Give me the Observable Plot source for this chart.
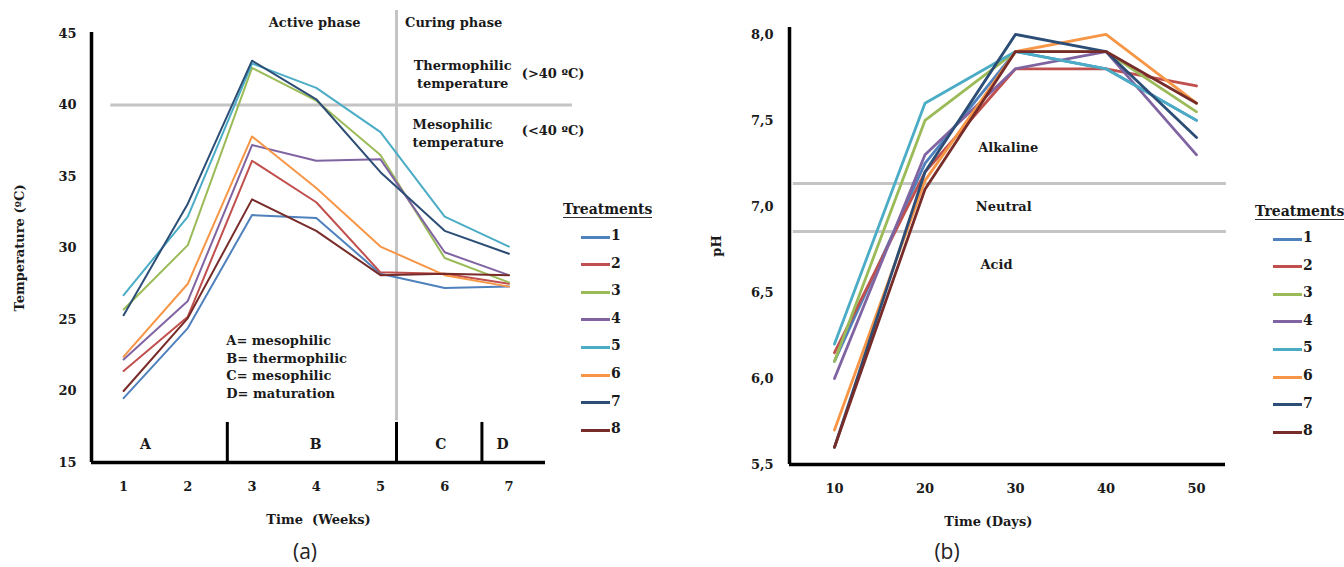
<!DOCTYPE html>
<html><head><meta charset="utf-8">
<script src="https://cdn.jsdelivr.net/npm/d3@7"></script>
<script src="https://cdn.jsdelivr.net/npm/@observablehq/plot@0.6"></script>
<style>
body{margin:0;background:#fff;}
#wrap{position:relative;width:1344px;height:567px;overflow:hidden;background:#fff;}
.chart{position:absolute;top:0;}
.lg{position:absolute;font:bold 14px "DejaVu Serif",serif;color:#1a1a1a;white-space:nowrap;}
.lgline{position:absolute;height:3px;}
.cap{position:absolute;font:21px "Open Sans",sans-serif;color:#222;transform:translate(-50%,-50%);}
</style></head><body><div id="wrap"></div>
<script>
// ---------- data ----------
const treatments = ["1","2","3","4","5","6","7","8"];
const colors = ["#4F81BD","#C0504D","#9BBB59","#8064A2","#4BACC6","#F79646","#2C4D75","#772C2A"];

const weeks = [1,2,3,4,5,6,7];
const tempTicks = [15,20,25,30,35,40,45];
const temp1 = [19.5, 24.4, 32.3, 32.1, 28.2, 27.2, 27.3];
const temp2 = [21.4, 25.2, 36.1, 33.2, 28.3, 28.2, 27.5];
const temp3 = [25.7, 30.2, 42.6, 40.3, 36.5, 29.3, 27.6];
const temp4 = [22.2, 26.3, 37.2, 36.1, 36.2, 29.7, 28.1];
const temp5 = [26.7, 32.2, 42.9, 41.2, 38.1, 32.2, 30.1];
const temp6 = [22.4, 27.5, 37.8, 34.2, 30.1, 28.1, 27.3];
const temp7 = [25.3, 33.1, 43.1, 40.4, 35.3, 31.2, 29.6];
const temp8 = [20.0, 25.1, 33.4, 31.2, 28.1, 28.2, 28.1];

const days = [10,20,30,40,50];
const phTicks = [5.5,6.0,6.5,7.0,7.5,8.0];
const ph1 = [6.10, 7.25, 7.9, 7.8, 7.5];
const ph2 = [6.15, 7.20, 7.8, 7.8, 7.7];
const ph3 = [6.10, 7.50, 7.9, 7.9, 7.55];
const ph4 = [6.00, 7.30, 7.8, 7.9, 7.3];
const ph5 = [6.20, 7.60, 7.9, 7.8, 7.5];
const ph6 = [5.70, 7.15, 7.9, 8.0, 7.6];
const ph7 = [5.60, 7.20, 8.0, 7.9, 7.4];
const ph8 = [5.60, 7.10, 7.9, 7.9, 7.6];

const phaseLabels = ["Active phase","Curing phase"];
const stageLetters = ["A","B","C","D"];
const stageKey = "A= mesophilic\nB= thermophilic\nC= mesophilic\nD= maturation";
const zoneLabels = ["Alkaline","Neutral","Acid"];

// ---------- tables ----------
const tempSeries = [temp1,temp2,temp3,temp4,temp5,temp6,temp7,temp8];
const phSeries = [ph1,ph2,ph3,ph4,ph5,ph6,ph7,ph8];
const tempData = tempSeries.flatMap((s,i)=>s.map((v,j)=>({t:treatments[i],x:weeks[j],y:v})));
const phData = phSeries.flatMap((s,i)=>s.map((v,j)=>({t:treatments[i],x:days[j],y:v})));

const font = {fontFamily:"DejaVu Serif, serif", fontSize:"13px", fontWeight:"bold", color:"#1a1a1a", background:"transparent"};
const GRAY = "#c4c4c4";

// ---------- left chart ----------
const left = Plot.plot({
  width: 672, height: 567,
  marginLeft: 91, marginRight: 127, marginTop: 33, marginBottom: 105,
  style: font,
  x: {domain:[0.5,7.57], ticks: weeks, tickSize:0, tickPadding:19, tickFormat: d=>String(d),
      label:"Time  (Weeks)", labelAnchor:"center", labelOffset:61, labelArrow:"none"},
  y: {domain:[15,45], ticks: tempTicks, tickSize:0, tickPadding:15,
      label:"Temperature (ºC)", labelAnchor:"center", labelOffset:77, labelArrow:"none"},
  color: {domain: treatments, range: colors},
  marks: [
    Plot.ruleY([40], {x1:0.8, x2:7.99, stroke:GRAY, strokeWidth:3}),
    Plot.ruleX([5.25], {y1:17.9, y2:46.6, stroke:GRAY, strokeWidth:3}),
    Plot.line(tempData, {x:"x", y:"y", z:"t", stroke:"t", strokeWidth:2}),
    Plot.ruleX([2.615, 5.25, 6.58], {y1:15, y2:17.8, stroke:"#000", strokeWidth:3}),
    Plot.ruleY([15], {stroke:"#000", strokeWidth:3.5}),
    Plot.ruleX([0.5], {y1:15, y2:45.07, stroke:"#000", strokeWidth:3.5}),
    Plot.text(phaseLabels, {x:[3.975, 6.14], y:[45.77, 45.77], text:d=>d, fill:"#1a1a1a"}),
    Plot.text(["Thermophilic\ntemperature"], {x:[6.28], y:[42.2], text:d=>d, lineHeight:1.38, fill:"#1a1a1a"}),
    Plot.text(["Mesophilic\ntemperature"], {x:[5.50], y:[38.1], text:d=>d, lineHeight:1.38, textAnchor:"start", fill:"#1a1a1a"}),
    Plot.text(["(>40 ºC)", "(<40 ºC)"], {x:[7.2, 7.2], y:[42.2, 38.2], text:d=>d, textAnchor:"start", fill:"#1a1a1a"}),
    Plot.text([stageKey], {x:[2.60], y:[21.75], text:d=>d, lineHeight:1.35, textAnchor:"start", fill:"#1a1a1a"}),
    Plot.text(stageLetters, {x:[1.34, 3.99, 5.94, 6.90], y:[16.26,16.26,16.26,16.26], text:d=>d, fontSize:14, fill:"#1a1a1a"})
  ]
});
left.classList.add("chart");
left.style.left = "0px";

// ---------- right chart ----------
const right = Plot.plot({
  width: 672, height: 567,
  marginLeft: 117, marginRight: 119, marginTop: 27, marginBottom: 103,
  style: font,
  x: {domain:[5.03,53.2], ticks: days, tickSize:0, tickPadding:19, tickFormat:d=>String(d), label:null},
  y: {domain:[5.5,8.04], ticks: phTicks, tickSize:0, tickPadding:16,
      tickFormat: d=>d.toFixed(1).replace(".", ","),
      label:"pH", labelAnchor:"center", labelOffset:78, labelArrow:"none"},
  color: {domain: treatments, range: colors},
  marks: [
    Plot.ruleY([7.133, 6.855], {x1:5.45, x2:53.3, stroke:GRAY, strokeWidth:3}),
    Plot.line(phData, {x:"x", y:"y", z:"t", stroke:"t", strokeWidth:2.8}),
    Plot.ruleY([5.5], {stroke:"#000", strokeWidth:3.5}),
    Plot.ruleX([5.03], {y1:5.5, y2:8.04, stroke:"#000", strokeWidth:3.5}),
    Plot.text(zoneLabels, {x:[29.2, 28.7, 27.9], y:[7.343, 6.995, 6.66], text:d=>d, fill:"#1a1a1a"}),
    Plot.text(["Time (Days)"], {x:[27.0], frameAnchor:"bottom", dy:61, text:d=>d, fill:"#1a1a1a"})
  ]
});
right.classList.add("chart");
right.style.left = "672px";

const wrap = document.getElementById("wrap");
wrap.appendChild(left);
wrap.appendChild(right);

// ---------- legends ----------
function legend(x0, titleY) {
  const t = document.createElement("div");
  t.className = "lg";
  t.textContent = "Treatments";
  t.style.left = x0 + "px";
  t.style.top = (titleY - 10) + "px";
  t.style.borderBottom = "1.5px solid #333";
  t.style.paddingBottom = "0px";
  wrap.appendChild(t);
  treatments.forEach((name, i) => {
    const yc = titleY + 26 + i * 27.6;
    const ln = document.createElement("div");
    ln.className = "lgline";
    ln.style.left = (x0 + 18) + "px";
    ln.style.width = "29px";
    ln.style.top = (yc - 1.5) + "px";
    ln.style.background = colors[i];
    wrap.appendChild(ln);
    const lb = document.createElement("div");
    lb.className = "lg";
    lb.textContent = name;
    lb.style.left = (x0 + 48) + "px";
    lb.style.top = (yc - 10) + "px";
    wrap.appendChild(lb);
  });
}
legend(563, 211);
legend(1255, 213);

// ---------- captions ----------
[["(a)", 305], ["(b)", 947]].forEach(([s, x]) => {
  const c = document.createElement("div");
  c.className = "cap";
  c.textContent = s;
  c.style.left = x + "px";
  c.style.top = "551px";
  wrap.appendChild(c);
});
</script></body></html>
